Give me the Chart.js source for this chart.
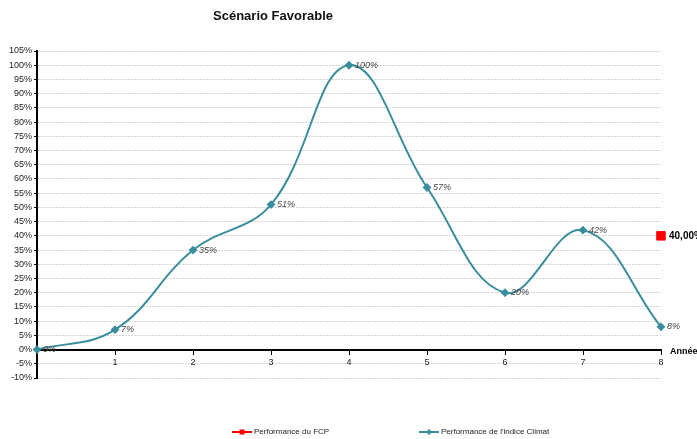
<!DOCTYPE html>
<html>
<head>
<meta charset="utf-8">
<script src="https://cdn.jsdelivr.net/npm/chart.js@4"></script>
<style>
  html, body { margin: 0; padding: 0; background: #fff; }
  #wrap { position: relative; width: 697px; height: 439px; }
</style>
</head>
<body>
<div id="wrap"><canvas id="chart" width="697" height="439"></canvas></div>
<script>
(() => {
  const TITLE = "Scénario Favorable";
  const X_AXIS_LABEL = "Année";
  const years = [0, 1, 2, 3, 4, 5, 6, 7, 8];
  const indiceValues = [0, 7, 35, 51, 100, 57, 20, 42, 8];
  const fcpYears = [8];
  const fcpValues = [40];
  const FCP_LABEL = "Performance du FCP";
  const INDICE_LABEL = "Performance de l'indice Climat";
  const FCP_TEXT = "40,00%";

  const TEAL = "#3a8d9e";
  const RED = "#ff0000";
  const FONT = "'Liberation Sans', Arial, sans-serif";

  // title, italic value labels, bold FCP value and axis title
  const overlayText = {
    id: "overlayText",
    afterDatasetsDraw(chart) {
      const { ctx } = chart;
      ctx.save();
      ctx.textBaseline = "middle";
      ctx.textAlign = "center";
      ctx.font = "bold 13px " + FONT;
      ctx.fillStyle = "#111";
      ctx.fillText(TITLE, 273, 16);

      ctx.textAlign = "left";
      const teal = chart.getDatasetMeta(1);
      ctx.font = "italic 9px " + FONT;
      ctx.fillStyle = "#444";
      teal.data.forEach((pt, i) => {
        ctx.fillText(indiceValues[i] + "%", pt.x + 6, pt.y);
      });

      const red = chart.getDatasetMeta(0);
      ctx.font = "bold 10px " + FONT;
      ctx.fillStyle = "#000";
      red.data.forEach((pt) => {
        ctx.fillText(FCP_TEXT, pt.x + 8, pt.y);
      });

      const xs = chart.scales.x;
      const zeroY = chart.scales.y.getPixelForValue(0);
      ctx.font = "bold 9px " + FONT;
      ctx.fillText(X_AXIS_LABEL, xs.right + 9, zeroY + 2);
      ctx.restore();
    }
  };

  // bottom legend with line + marker samples
  const bottomLegend = {
    id: "bottomLegend",
    afterDraw(chart) {
      const { ctx } = chart;
      const items = [
        { x: 232, text: FCP_LABEL, color: RED, marker: "square" },
        { x: 419, text: INDICE_LABEL, color: TEAL, marker: "diamond" }
      ];
      const y = 432;
      ctx.save();
      items.forEach((item) => {
        ctx.strokeStyle = item.color;
        ctx.lineWidth = 2;
        ctx.beginPath();
        ctx.moveTo(item.x, y);
        ctx.lineTo(item.x + 20, y);
        ctx.stroke();
        ctx.fillStyle = item.color;
        const cx = item.x + 10;
        if (item.marker === "square") {
          ctx.fillRect(cx - 2.5, y - 2.5, 5, 5);
        } else {
          ctx.beginPath();
          ctx.moveTo(cx, y - 3);
          ctx.lineTo(cx + 3, y);
          ctx.lineTo(cx, y + 3);
          ctx.lineTo(cx - 3, y);
          ctx.closePath();
          ctx.fill();
        }
        ctx.fillStyle = "#222";
        ctx.font = "8px " + FONT;
        ctx.textAlign = "left";
        ctx.textBaseline = "middle";
        ctx.fillText(item.text, item.x + 22, y);
      });
      ctx.restore();
    }
  };

  new Chart(document.getElementById("chart").getContext("2d"), {
    type: "line",
    data: {
      datasets: [
        {
          label: FCP_LABEL,
          data: fcpYears.map((x, i) => ({ x, y: fcpValues[i] })),
          showLine: false,
          clip: false,
          pointStyle: "rect",
          pointRadius: 6,
          pointBackgroundColor: RED,
          pointBorderColor: RED,
          borderColor: RED,
          backgroundColor: RED
        },
        {
          label: INDICE_LABEL,
          data: years.map((x, i) => ({ x, y: indiceValues[i] })),
          clip: false,
          borderColor: TEAL,
          backgroundColor: TEAL,
          borderWidth: 2,
          tension: 0.4,
          pointStyle: "rectRot",
          pointRadius: 3,
          pointBackgroundColor: TEAL,
          pointBorderColor: TEAL
        }
      ]
    },
    options: {
      responsive: false,
      animation: false,
      layout: { padding: { top: 51, right: 36, bottom: 61, left: 0 } },
      plugins: {
        legend: { display: false },
        tooltip: { enabled: false },
        title: { display: false }
      },
      scales: {
        x: {
          type: "linear",
          position: { y: 0 },
          min: 0,
          max: 8,
          ticks: {
            stepSize: 1,
            autoSkip: false,
            maxRotation: 0,
            color: "#222",
            font: { family: FONT, size: 9 },
            padding: 4,
            callback: (v) => (v === 0 ? "" : String(v))
          },
          grid: {
            display: true,
            drawOnChartArea: false,
            drawTicks: true,
            tickLength: 4,
            color: "#000"
          },
          border: { color: "#000", width: 2 }
        },
        y: {
          min: -10,
          max: 105,
          afterFit(scale) { scale.width = 37; },
          ticks: {
            stepSize: 5,
            autoSkip: false,
            color: "#222",
            font: { family: FONT, size: 9 },
            padding: 2,
            callback: (v) => v + "%"
          },
          grid: {
            color: "#d6d6d6",
            tickLength: 3,
            tickColor: "#000"
          },
          border: { color: "#000", width: 2, dash: [2, 1] }
        }
      }
    },
    plugins: [overlayText, bottomLegend]
  });
})();
</script>
</body>
</html>
